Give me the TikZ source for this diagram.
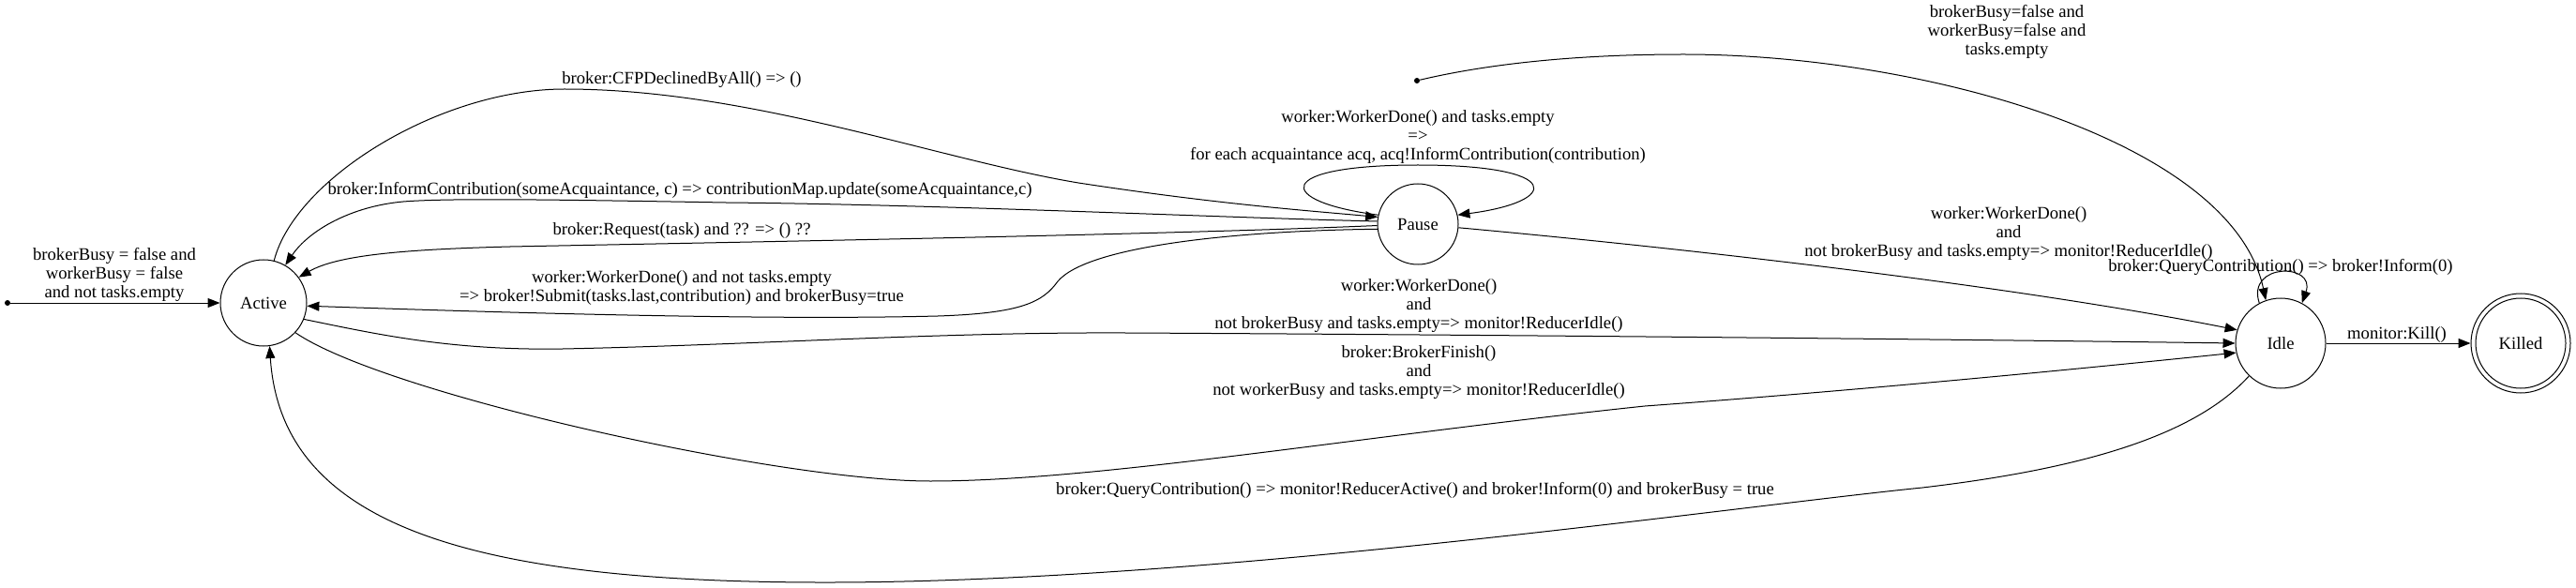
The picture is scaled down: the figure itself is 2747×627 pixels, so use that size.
\documentclass[tikz,border=0pt]{standalone}
\usepackage{fontspec}
\setmainfont{Liberation Serif}
\usetikzlibrary{arrows.meta}
\begin{document}
\begin{tikzpicture}[x=0.75pt,y=-0.75pt,
  every node/.style={font=\fontsize{14pt}{15pt}\selectfont},
  state/.style={circle,draw,line width=0.75pt,inner sep=0pt},
  initdot/.style={circle,fill,inner sep=0pt,minimum size=4.5pt},
  lbl/.style={align=center,inner sep=0pt},
  edge/.style={line width=0.75pt,-{Triangle[length=9.75pt,width=7.5pt]}}]
\useasboundingbox (0,0) rectangle (2747,627);
% states
\node[initdot] (init1) at (8,323) {};
\node[state,minimum size=69pt] (active) at (281,323) {Active};
\node[state,minimum size=64.5pt] (pause) at (1512,239) {Pause};
\node[initdot] (init2) at (1511,86) {};
\node[state,minimum size=72pt] (idle) at (2432,366) {Idle};
\node[state,minimum size=79.5pt] (killed) at (2688,366) {Killed};
\draw[line width=0.75pt] (killed.center) circle[radius=36pt];
% labels
\node[lbl] (linit1) at (122,293) {brokerBusy = false and\\workerBusy = false\\and not tasks.empty};
\node[lbl] (lcfp) at (727,85) {broker:CFPDeclinedByAll() => ()};
\node[lbl] (linform) at (725,203) {broker:InformContribution(someAcquaintance, c) => contributionMap.update(someAcquaintance,c)};
\node[lbl] (lreq) at (727,246) {broker:Request(task) and ?? => () ??};
\node[lbl] (lwdne) at (727,307) {worker:WorkerDone() and not tasks.empty\\=> broker!Submit(tasks.last,contribution) and brokerBusy=true};
\node[lbl] (lploop) at (1512,146) {worker:WorkerDone() and tasks.empty\\=>\\for each acquaintance acq, acq!InformContribution(contribution)};
\node[lbl] (lpi) at (2142,249) {worker:WorkerDone()\\and\\not brokerBusy and tasks.empty=> monitor!ReducerIdle()};
\node[lbl] (linit2) at (2140,34) {brokerBusy=false and\\workerBusy=false and\\tasks.empty};
\node[lbl] (liloop) at (2432,285) {broker:QueryContribution() => broker!Inform(0)};
\node[lbl] (lai) at (1513,326) {worker:WorkerDone()\\and\\not brokerBusy and tasks.empty=> monitor!ReducerIdle()};
\node[lbl] (lbf) at (1513,397) {broker:BrokerFinish()\\and\\not workerBusy and tasks.empty=> monitor!ReducerIdle()};
\node[lbl] (lqc) at (1509,523) {broker:QueryContribution() => monitor!ReducerActive() and broker!Inform(0) and brokerBusy = true};
\node[lbl] (lkill) at (2556,357) {monitor:Kill()};
% edges
\draw[edge] (init1) -- (active);
\draw[edge] (active.76) .. controls (315,190) and (470,95) .. (602,95)
  .. controls (800,95) and (1000,170) .. (1150,195)
  .. controls (1300,218) and (1400,225) .. (pause.170);
\draw[edge] (pause.176) .. controls (1300,232) and (1000,218) .. (774,216)
  .. controls (600,213) and (480,211) .. (430,215)
  .. controls (375,220) and (330,245) .. (active.60);
\draw[edge] (pause.182) .. controls (1250,250) and (800,258) .. (544,263)
  .. controls (430,266) and (360,272) .. (active.36);
\draw[edge] (pause.187) .. controls (1320,246) and (1160,262) .. (1128,300)
  .. controls (1112,322) and (1090,334) .. (1000,337)
  .. controls (800,342) and (500,332) .. (active.-4);
\draw[edge] (pause.167) .. controls (1360,215) and (1355,176) .. (1512,176)
  .. controls (1669,176) and (1664,215) .. (pause.13);
\draw[edge] (pause.-5) .. controls (1800,265) and (2150,305) .. (idle.163);
\draw[edge] (init2) .. controls (1600,65) and (1700,58) .. (1795,58)
  .. controls (2050,58) and (2380,150) .. (idle.109);
\draw[edge] (idle.118) .. controls (2395,280) and (2470,280) .. (idle.62);
\draw[edge] (active.-22) .. controls (400,356) and (480,374) .. (600,372)
  .. controls (800,368) and (1000,354) .. (1200,355)
  .. controls (1600,357) and (2100,362) .. (idle.west);
\draw[edge] (active.-43) .. controls (410,420) and (830,513) .. (992,513)
  .. controls (1170,513) and (1450,465) .. (1754,433)
  .. controls (2000,415) and (2250,390) .. (idle.-168);
\draw[edge] (idle.226) .. controls (2340,465) and (2220,500) .. (2050,520)
  .. controls (1850,540) and (1300,620) .. (889,621)
  .. controls (500,622) and (300,560) .. (active.-82);
\draw[edge] (idle) -- (killed);
\end{tikzpicture}
\end{document}
